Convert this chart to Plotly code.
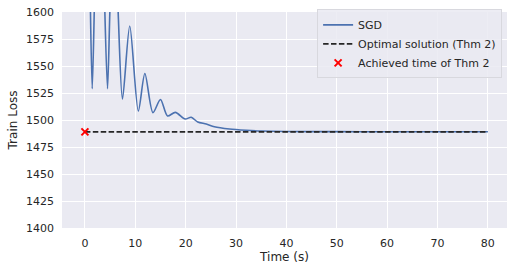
import plotly.graph_objects as go

# SGD train loss over time (values above 1600 are off-chart estimates)
sgd_time = [0.0, 1.1, 1.45, 1.85, 2.9, 3.96, 4.49, 4.95, 5.8, 6.6, 7.46, 8.9, 10.6, 11.9,
            13.5, 15.0, 16.4, 17.95, 19.9, 21.1, 22.4, 24.1, 25.7, 28.7, 32.0, 35.0,
            40.0, 50.0, 60.0, 70.0, 80.0]
sgd_loss = [2100, 1600, 1529, 1600, 1880, 1600, 1529, 1600, 1720, 1600, 1519.4, 1587, 1508.3, 1543,
            1506.8, 1519, 1503.7, 1507.1, 1500.9, 1502.5, 1498.1, 1496.3, 1493.8, 1491.7, 1490.5, 1489.8,
            1489.4, 1489.2, 1489.1, 1489.1, 1489.1]

opt_time = [0, 80]
opt_loss = [1489.0, 1489.0]

achieved_time = [0]
achieved_loss = [1489.0]

x_ticks = [0, 10, 20, 30, 40, 50, 60, 70, 80]
y_ticks = [1400, 1425, 1450, 1475, 1500, 1525, 1550, 1575, 1600]

fig = go.Figure()
fig.add_trace(go.Scatter(x=sgd_time, y=sgd_loss, mode="lines", name="SGD",
                         line=dict(color="#4C72B0", width=1.6, shape="spline", smoothing=0.8)))
fig.add_trace(go.Scatter(x=opt_time, y=opt_loss, mode="lines", name="Optimal solution (Thm 2)",
                         line=dict(color="#262626", width=1.6, dash="5.5px,2.4px")))
fig.add_trace(go.Scatter(x=achieved_time, y=achieved_loss, mode="markers", name="Achieved time of Thm 2",
                         marker=dict(symbol="x-thin", size=7, color="red",
                                     line=dict(color="red", width=2))))

fig.update_layout(
    width=515, height=272,
    margin=dict(l=62, r=8, t=12, b=44, autoexpand=False),
    paper_bgcolor="white", plot_bgcolor="#EAEAF2",
    font=dict(family="DejaVu Sans", size=11, color="#262626"),
    showlegend=True,
    legend=dict(x=0.989, y=1.012, xanchor="right", yanchor="top",
                bgcolor="rgba(234,234,242,0.85)", bordercolor="#D8D8DE", borderwidth=1,
                font=dict(family="DejaVu Sans", size=11, color="#262626"),
                itemwidth=30, tracegroupgap=0),
    xaxis=dict(range=[-4.55, 83.8], tickvals=x_ticks, showgrid=True, gridcolor="white", gridwidth=1.1,
               zeroline=False, showline=False, ticks="outside", ticklen=5,
               tickcolor="rgba(0,0,0,0)", automargin=False,
               title=dict(text="Time (s)", font=dict(size=12, family="DejaVu Sans", color="#262626"), standoff=3),
               tickfont=dict(size=11, family="DejaVu Sans", color="#262626")),
    yaxis=dict(range=[1400, 1600], tickvals=y_ticks, showgrid=True, gridcolor="white", gridwidth=1.1,
               zeroline=False, showline=False, ticks="", ticklabelstandoff=7,
               automargin=False,
               title=dict(text="Train Loss", font=dict(size=12, family="DejaVu Sans", color="#262626"), standoff=5),
               tickfont=dict(size=11, family="DejaVu Sans", color="#262626")),
)

fig.write_html("out.html", config={"displayModeBar": False},
               post_script="document.body.style.margin='0';document.body.style.overflow='hidden';")
